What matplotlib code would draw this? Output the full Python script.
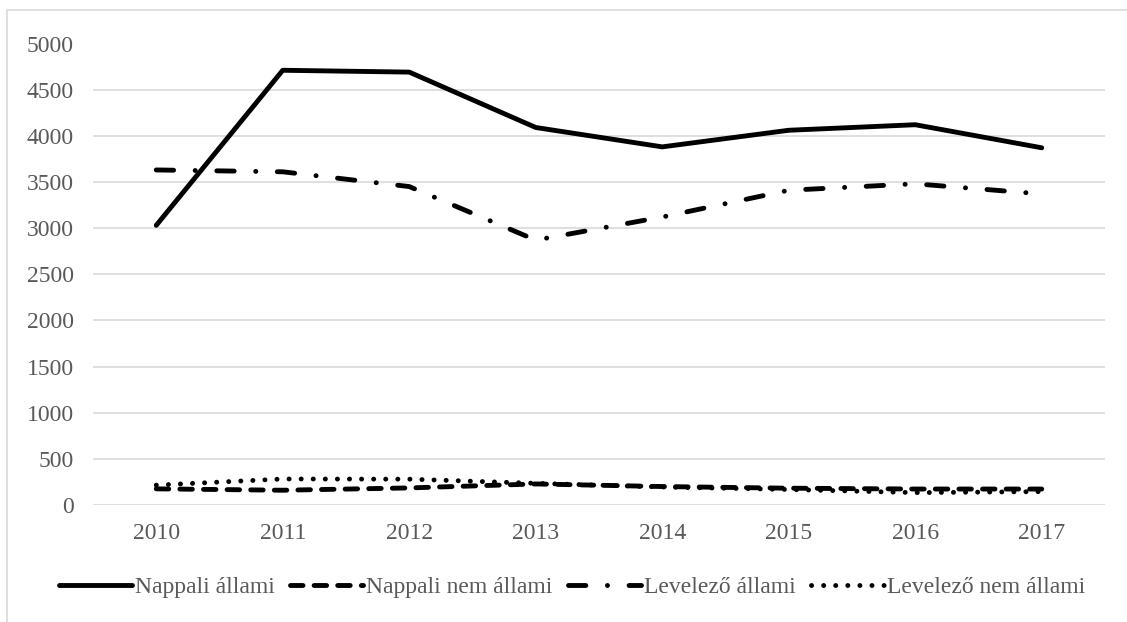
import matplotlib
matplotlib.use("Agg")
import matplotlib.pyplot as plt
from matplotlib.patches import Rectangle

years = ["2010", "2011", "2012", "2013", "2014", "2015", "2016", "2017"]
nappali_allami = [3030, 4710, 4690, 4090, 3880, 4060, 4120, 3870]
nappali_nem_allami = [175, 160, 185, 228, 200, 182, 173, 173]
levelezo_allami = [3630, 3610, 3450, 2870, 3120, 3410, 3480, 3370]
levelezo_nem_allami = [215, 282, 280, 235, 195, 168, 134, 145]
yticks = [0, 500, 1000, 1500, 2000, 2500, 3000, 3500, 4000, 4500, 5000]

plt.rcParams['font.family'] = ['Liberation Serif', 'DejaVu Serif']
plt.rcParams['lines.scale_dashes'] = False
TXT = '#595959'
GRID = '#d9d9d9'
FS = 17

fig = plt.figure(figsize=(11.27, 6.22), dpi=100)
ax = fig.add_axes([93/1127, 1-505/622, (1105-93)/1127, (505-43.5)/622])

x = list(range(len(years)))
lw = 3.5
l1, = ax.plot(x, nappali_allami, color='black', lw=lw, solid_capstyle='round',
              solid_joinstyle='round', label='Nappali állami')
l2, = ax.plot(x, nappali_nem_allami, color='black', lw=lw, dash_capstyle='round',
              dash_joinstyle='round', label='Nappali nem állami')
l2.set_dashes((9.0, 8.0))
l3, = ax.plot(x, levelezo_allami, color='black', lw=lw, dash_capstyle='round',
              dash_joinstyle='round', label='Levelező állami')
l3.set_dashes((12.5, 15.5, 0.1, 15.5))
l4, = ax.plot(x, levelezo_nem_allami, color='black', lw=lw, dash_capstyle='round',
              dash_joinstyle='round', label='Levelező nem állami')
l4.set_dashes((0.1, 8.6))

ax.set_xlim(-0.5, len(years)-0.5)
ax.set_ylim(0, 5000)
ax.set_yticks(yticks)
ax.set_xticks(x)
ax.set_xticklabels(years)
ax.yaxis.grid(True, color=GRID, lw=1.2)
ax.set_axisbelow(True)
for s in ax.spines.values():
    s.set_visible(False)
ax.tick_params(axis='both', length=0, labelsize=FS, labelcolor=TXT)
ax.tick_params(axis='y', pad=14)
ax.tick_params(axis='x', pad=13)

leg = fig.legend(handles=[l1, l2, l3, l4], loc='center', ncol=4,
                 bbox_to_anchor=(572/1127, 1-587/622), frameon=False,
                 fontsize=FS, handlelength=3.1, handletextpad=0.12,
                 columnspacing=0.65, borderaxespad=0)
for t in leg.get_texts():
    t.set_color(TXT)

fig.patches.append(Rectangle((7/1127, -0.5), 2, 0.5+1-10/622, transform=fig.transFigure,
                             fill=False, edgecolor=GRID, lw=1.2, clip_on=False))

fig.savefig('out.png', dpi=100)
